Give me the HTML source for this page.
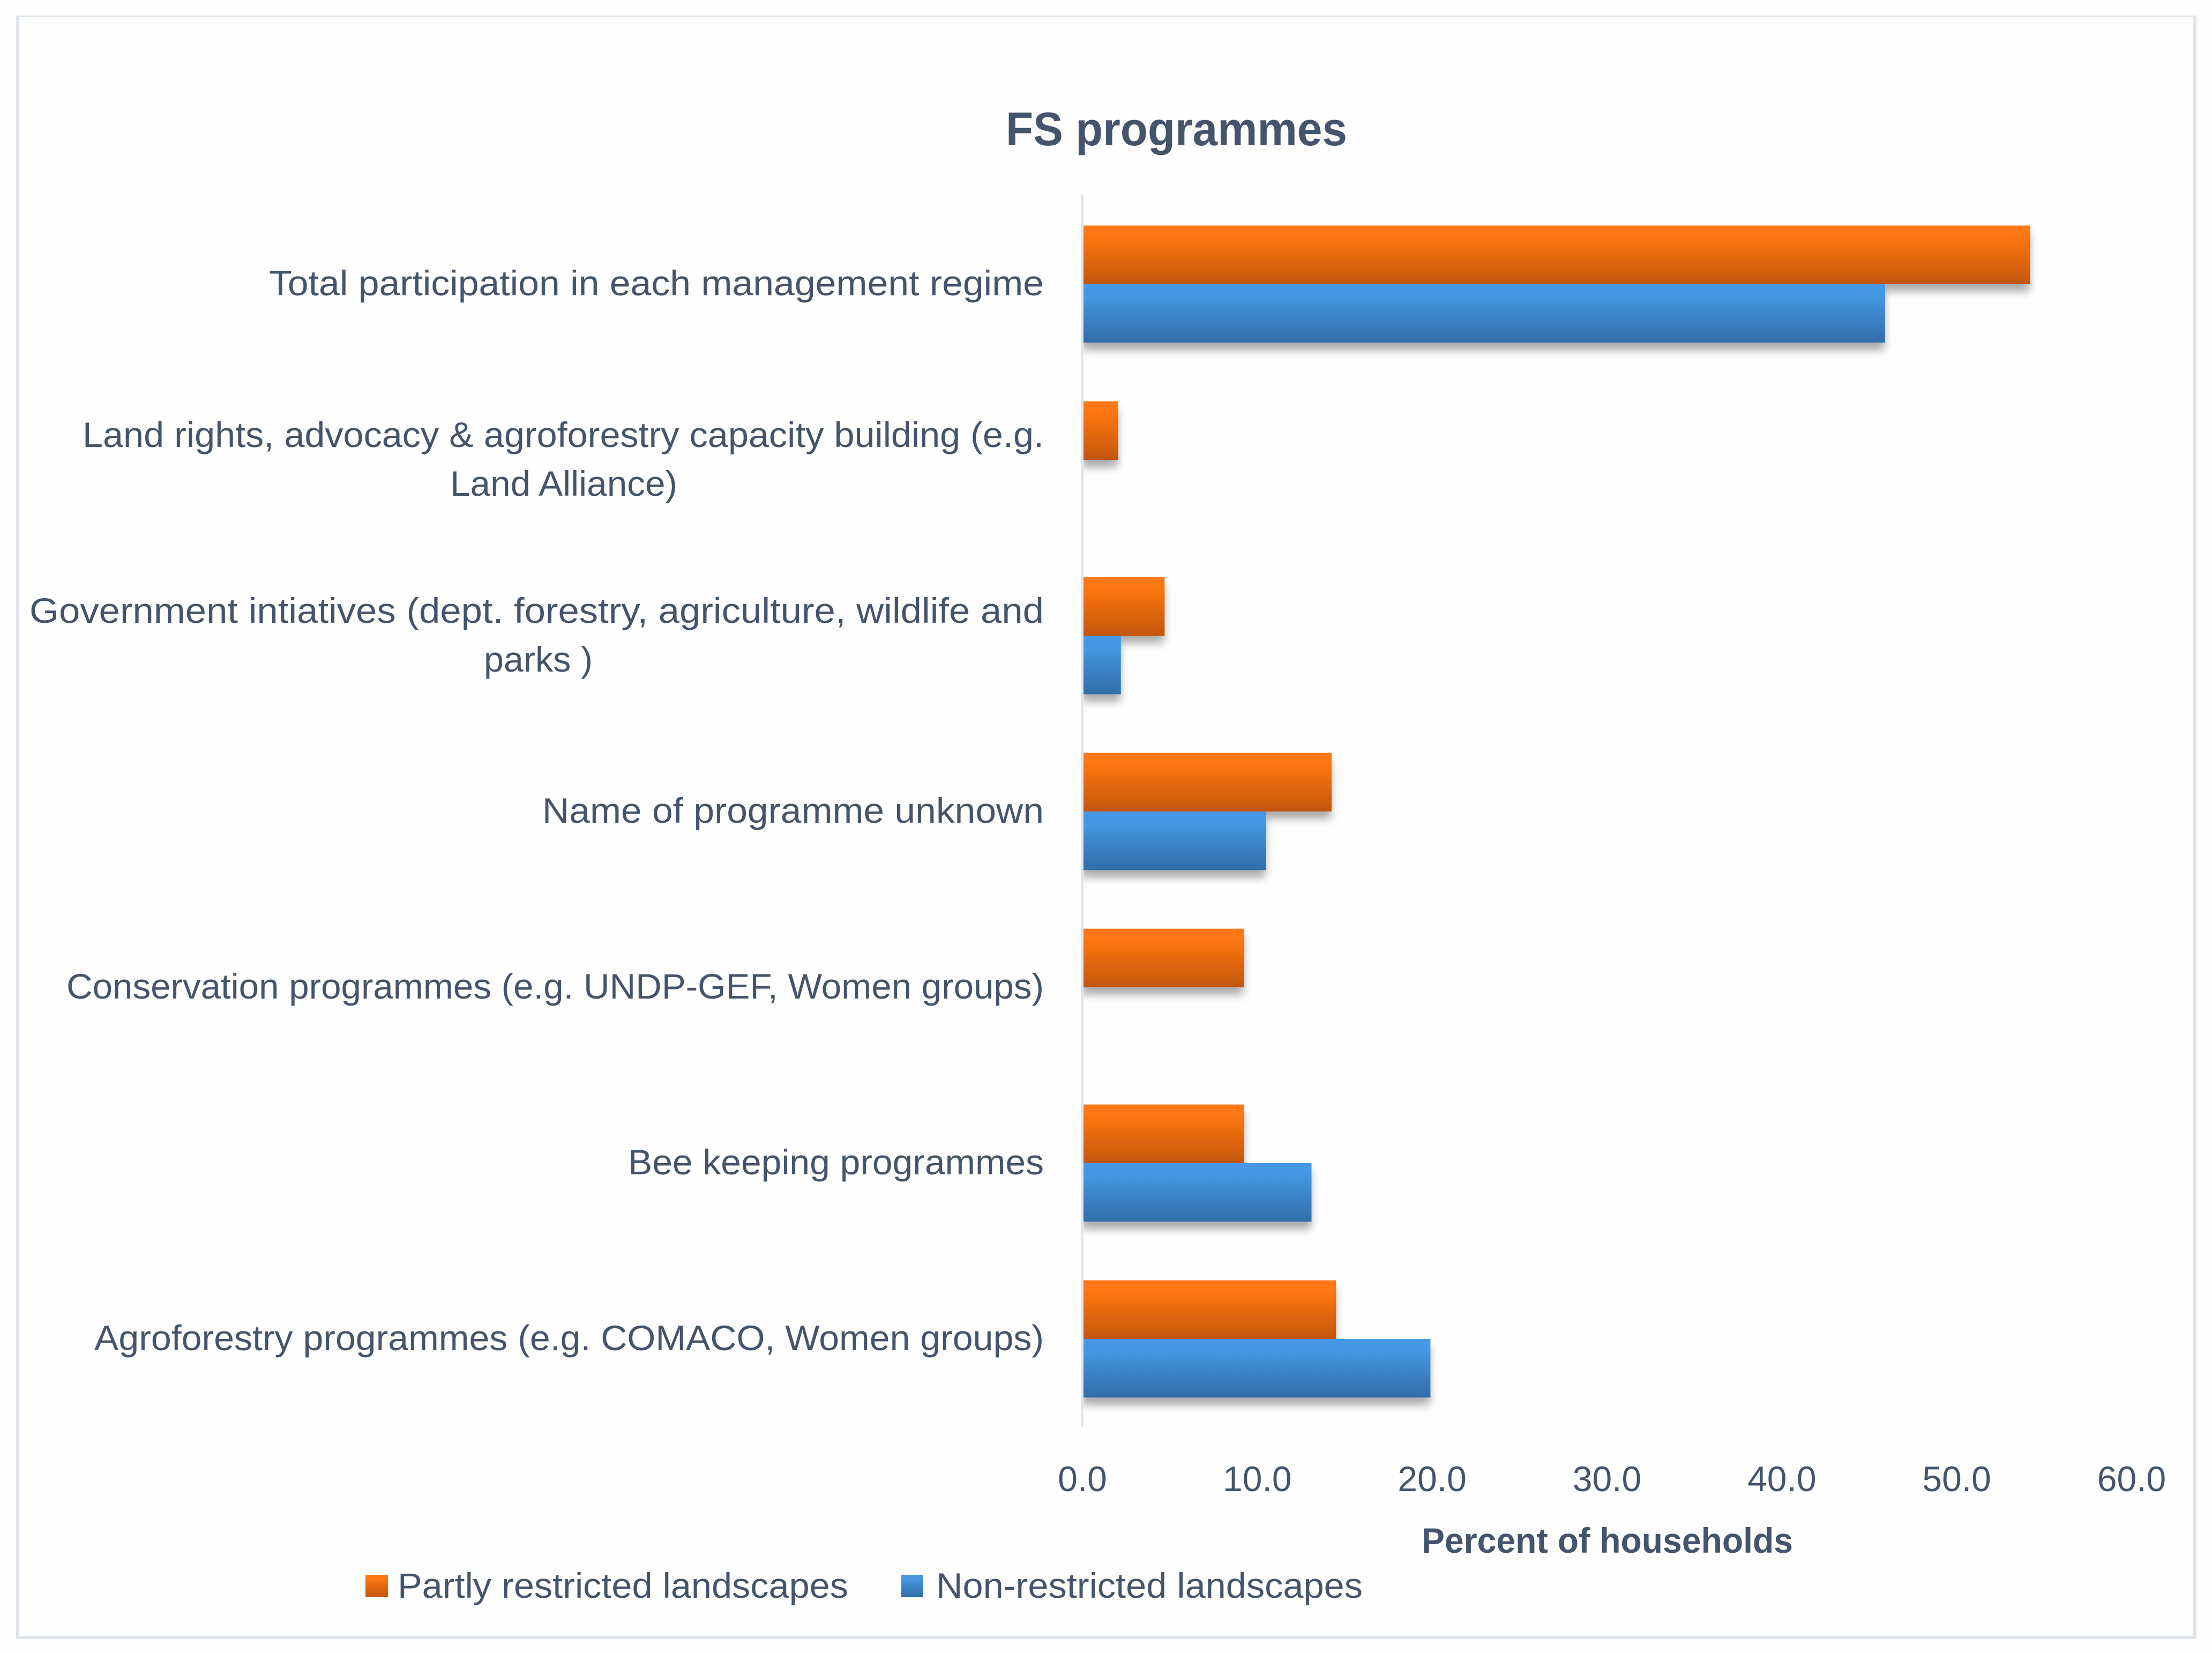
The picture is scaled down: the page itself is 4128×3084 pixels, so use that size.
<!DOCTYPE html>
<html lang="en">
<head>
<meta charset="utf-8">
<title>FS programmes</title>
<style>
html,body{margin:0;padding:0;background:#fefefe;width:4128px;height:3084px;overflow:hidden}
svg{display:block}
text{font-family:"Liberation Sans",Arial,sans-serif;fill:#44546a;font-size:66px}
.b{font-weight:bold}
</style>
</head>
<body>
<svg id="chart" xmlns="http://www.w3.org/2000/svg" width="4128" height="3084" viewBox="0 0 4128 3084">
  <defs>
    <linearGradient id="gradOrange" x1="0" y1="0" x2="0" y2="1">
      <stop offset="0" stop-color="#ff7712"/>
      <stop offset="0.17" stop-color="#ff7712"/>
      <stop offset="1" stop-color="#c2560a"/>
    </linearGradient>
    <linearGradient id="gradBlue" x1="0" y1="0" x2="0" y2="1">
      <stop offset="0" stop-color="#4698e4"/>
      <stop offset="0.17" stop-color="#4698e4"/>
      <stop offset="1" stop-color="#2f6da8"/>
    </linearGradient>
    <filter id="barShadow" filterUnits="userSpaceOnUse" x="1990" y="360" width="2000" height="2340">
      <feGaussianBlur in="SourceAlpha" stdDeviation="8"/>
      <feOffset dx="-1" dy="14"/>
      <feComponentTransfer><feFuncA type="linear" slope="0.33"/></feComponentTransfer>
      <feMerge><feMergeNode/><feMergeNode in="SourceGraphic"/></feMerge>
    </filter>
    <clipPath id="plotClip"><rect x="2021" y="360" width="2000" height="2340"/></clipPath>
  </defs>

  <path d="M30 29H4099V3058H30Z M36 32V3052H4093V32Z" fill="#e0e5ec" fill-rule="evenodd"/>

  <text class="b" x="1877" y="271" font-size="88" style="font-size:88px" textLength="637" lengthAdjust="spacingAndGlyphs">FS programmes</text>

  <g id="bars" clip-path="url(#plotClip)"></g>

  <rect x="2017" y="363" width="5" height="2299" fill="#dfe5ee"/>

  <g>
    <text x="502" y="551" textLength="1446" lengthAdjust="spacingAndGlyphs">Total participation in each management regime</text>
    <text x="154" y="834" textLength="1794" lengthAdjust="spacingAndGlyphs">Land rights, advocacy &amp; agroforestry capacity building (e.g.</text>
    <text x="840" y="925" textLength="424" lengthAdjust="spacingAndGlyphs">Land Alliance)</text>
    <text x="55" y="1162" textLength="1893" lengthAdjust="spacingAndGlyphs">Government intiatives (dept. forestry, agriculture, wildlife and</text>
    <text x="903" y="1253" textLength="203" lengthAdjust="spacingAndGlyphs">parks )</text>
    <text x="1012" y="1535" textLength="936" lengthAdjust="spacingAndGlyphs">Name of programme unknown</text>
    <text x="124" y="1863" textLength="1824" lengthAdjust="spacingAndGlyphs">Conservation programmes (e.g. UNDP-GEF, Women groups)</text>
    <text x="1172" y="2191" textLength="776" lengthAdjust="spacingAndGlyphs">Bee keeping programmes</text>
    <text x="176" y="2519" textLength="1772" lengthAdjust="spacingAndGlyphs">Agroforestry programmes (e.g. COMACO, Women groups)</text>
  </g>

  <g id="xticks"></g>

  <text class="b" x="2653" y="2897" textLength="693" lengthAdjust="spacingAndGlyphs">Percent of households</text>

  <g>
    <g>
      <rect x="682" y="2938" width="42" height="42" fill="url(#gradOrange)"/>
      <text x="742" y="2981" textLength="841" lengthAdjust="spacingAndGlyphs">Partly restricted landscapes</text>
    </g>
    <g>
      <rect x="1682" y="2938" width="41" height="42" fill="url(#gradBlue)"/>
      <text x="1747" y="2981" textLength="796" lengthAdjust="spacingAndGlyphs">Non-restricted landscapes</text>
    </g>
  </g>
</svg>

<script>
const categories = ["total", "land-rights", "government", "name-unknown", "conservation", "bee-keeping", "agroforestry"];
const partlyRestricted = [54.2, 2.05, 4.7, 14.25, 9.25, 9.25, 14.5];
const nonRestricted = [45.9, 0, 2.2, 10.5, 0, 13.1, 19.9];
const xTickValues = [0, 10, 20, 30, 40, 50, 60];
const xTickLabels = ["0.0", "10.0", "20.0", "30.0", "40.0", "50.0", "60.0"];

const SVG_NS = "http://www.w3.org/2000/svg";
const plotLeft = 2020, plotRight = 3978, plotTop = 366, plotBottom = 2662;
const xMax = 60;

function xScale(v) { return plotLeft + (v / xMax) * (plotRight - plotLeft); }
function bandTop(i) { return plotTop + i * (plotBottom - plotTop) / categories.length; }
function bandHeight() { return (plotBottom - plotTop) / categories.length; }

const barsGroup = document.getElementById("bars");

function drawBar(i, offsetBands, value, fill) {
  const r = document.createElementNS(SVG_NS, "rect");
  const h = bandHeight() / 3;
  r.setAttribute("x", xScale(0));
  r.setAttribute("y", bandTop(i) + h * (0.5 + offsetBands));
  r.setAttribute("width", Math.max(0, xScale(value) - xScale(0)));
  r.setAttribute("height", h);
  r.setAttribute("fill", fill);
  r.setAttribute("filter", "url(#barShadow)");
  return r;
}

categories.forEach(function (cat, i) {
  const orange = drawBar(i, 0, partlyRestricted[i], "url(#gradOrange)");
  
  
  barsGroup.appendChild(orange);
  const blue = drawBar(i, 1, nonRestricted[i], "url(#gradBlue)");
  
  
  barsGroup.appendChild(blue);
});

const ticksGroup = document.getElementById("xticks");
xTickValues.forEach(function (v, i) {
  const t = document.createElementNS(SVG_NS, "text");
  t.setAttribute("x", xScale(v));
  t.setAttribute("y", 2782);
  t.setAttribute("text-anchor", "middle");
  t.textContent = xTickLabels[i];
  
  
  ticksGroup.appendChild(t);
});
</script>
</body>
</html>
